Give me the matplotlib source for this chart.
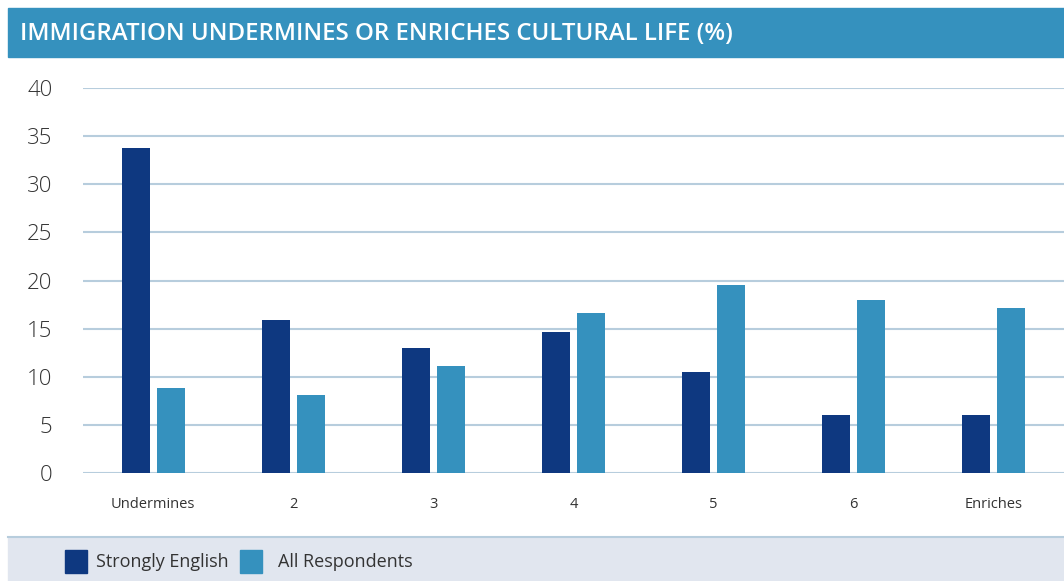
import matplotlib
matplotlib.use("Agg")
import matplotlib.pyplot as plt
import numpy as np
from matplotlib.patches import Rectangle

categories = ["Undermines", "2", "3", "4", "5", "6", "Enriches"]
strongly_english = [33.8, 15.9, 13.0, 14.7, 10.5, 6.0, 6.0]
all_respondents = [8.8, 8.1, 11.1, 16.6, 19.5, 18.0, 17.1]
y_ticks = [0, 5, 10, 15, 20, 25, 30, 35, 40]

dark = "#0E3880"
light = "#3591BE"
grid_col = "#B7CDDD"

plt.rcParams["font.family"] = ["Open Sans", "DejaVu Sans"]

fig = plt.figure(figsize=(10.64, 5.81), dpi=100)
ax = fig.add_axes([0.078, 0.1859, 0.922, 0.6626])

x = np.arange(len(categories))
ax.bar(x - 0.125, strongly_english, width=0.2, color=dark, zorder=3)
ax.bar(x + 0.125, all_respondents, width=0.2, color=light, zorder=3)

ax.set_xlim(-0.5, 6.5)
ax.set_ylim(0, 40)
ax.set_yticks(y_ticks)
ax.set_xticks(x)
ax.set_xticklabels(categories, fontsize=10.5, color="#333333")
ax.tick_params(axis="x", length=0, pad=17)
ax.tick_params(axis="y", length=0, pad=22, labelsize=16, labelcolor="#333333")
for lbl in ax.get_yticklabels():
    lbl.set_fontweight("light")
ax.grid(axis="y", color=grid_col, linewidth=1.5, zorder=0)
for s in ax.spines.values():
    s.set_visible(False)

# title band
fig.patches.append(Rectangle((8 / 1064, 1 - 57 / 581), 1, 49 / 581,
                             transform=fig.transFigure, color=light, zorder=0))
fig.text(20 / 1064, 1 - 34 / 581, "IMMIGRATION UNDERMINES OR ENRICHES CULTURAL LIFE (%)",
         color="white", fontsize=17.3, fontweight="semibold", va="center", ha="left")

# legend band
fig.patches.append(Rectangle((8 / 1064, 0), 1, 44 / 581,
                             transform=fig.transFigure, color="#E1E6EF", zorder=0))
fig.add_artist(plt.Line2D([8 / 1064, 1], [44 / 581, 44 / 581], color=grid_col,
                          linewidth=1.5, transform=fig.transFigure))
fig.patches.append(Rectangle((65 / 1064, 8 / 581), 22 / 1064, 23 / 581,
                             transform=fig.transFigure, color=dark))
fig.text(96 / 1064, 19 / 581, "Strongly English", fontsize=13, color="#333333", va="center")
fig.patches.append(Rectangle((240 / 1064, 8 / 581), 22 / 1064, 23 / 581,
                             transform=fig.transFigure, color=light))
fig.text(278 / 1064, 19 / 581, "All Respondents", fontsize=13, color="#333333", va="center")

fig.savefig("out.png", dpi=100)
